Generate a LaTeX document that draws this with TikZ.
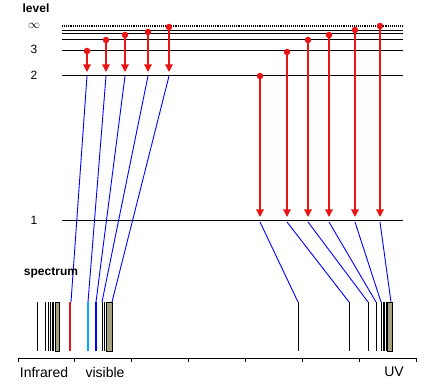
\documentclass[tikz,border=0pt]{standalone}
\usepackage{fontspec}
\setmainfont{Liberation Sans}
\usetikzlibrary{arrows.meta}
\definecolor{seriesgray}{RGB}{165,160,125}
\definecolor{halpha}{RGB}{235,20,20}

\tikzset{
  energy/.style={black, line width=0.9pt},
  trans/.style={halpha, line width=1.2pt, -{Triangle[width=7.5pt,length=7.5pt]}},
  dot/.style={circle, fill=halpha, inner sep=0pt, minimum size=6.5pt},
  link/.style={blue, line width=0.9pt},
  specline/.style={black, line width=0.9pt},
  limit/.style={draw=black, line width=0.5pt, fill=seriesgray},
  lab/.style={font=\fontsize{12}{14}\selectfont},
  head/.style={font=\fontsize{12}{14}\selectfont\bfseries},
  band/.style={font=\fontsize{14}{16}\selectfont}
}

\begin{document}
\begin{tikzpicture}[x=1pt,y=-1pt]
\useasboundingbox (0,0) rectangle (432,390);

% energy levels
\node[head] (lvl) at (36,8) {level};
\node[lab] (ninf) at (34,26) {$\infty$};
\node[lab] (n3) at (34,49) {3};
\node[lab] (n2) at (34,75) {2};
\node[lab] (n1) at (34,220) {1};
\draw[black, line width=1.1pt, densely dotted] (62,26) -- (403,26);
\draw[energy] (62,30) -- (403,30);
\draw[energy] (62,33) -- (403,33);
\draw[energy] (62,39) -- (403,39);
\draw[energy] (62,50) -- (403,50);
\draw[energy] (62,75) -- (403,75);
\draw[energy] (62,220) -- (403,220);

% Balmer series: down to level 2
\foreach \x/\y/\s [count=\i] in {87/51/71, 106/40/88, 125/35/96, 148/32/102, 169/27/112}{
  \node[dot] (b\i) at (\x,\y) {};
  \coordinate (b\i e) at (\x,72);
  \draw[trans] (b\i.center) -- (b\i e);
  \coordinate (b\i l) at (\x,76);
  \coordinate (b\i s) at (\s,302);
  \draw[link] (b\i l) -- (b\i s);
}

% Lyman series: down to level 1
\foreach \x/\y/\s [count=\i] in {260/76/298, 287/52/349, 308/40/368, 329/35/376, 355/30/381, 380/26/391}{
  \node[dot] (l\i) at (\x,\y) {};
  \coordinate (l\i e) at (\x,217);
  \draw[trans] (l\i.center) -- (l\i e);
  \coordinate (l\i l) at (\x,222);
  \coordinate (l\i s) at (\s,302);
  \draw[link] (l\i l) -- (l\i s);
}

% spectrum
\node[head] (spec) at (51,273) {spectrum};
\foreach \x in {37,45,48,50,52,53.5,102,104,298,349,368,376,381,383,384.5,386}
  \draw[specline] (\x,302) -- (\x,351);
\draw[halpha, line width=2pt] (70,302) -- (70,351);
\draw[cyan, line width=2pt] (88,302) -- (88,351);
\draw[blue, line width=2pt] (96,302) -- (96,351);
\draw[limit] (55,302) rectangle (59,351);
\draw[limit] (106,302) rectangle (112,351);
\draw[limit] (387,302) rectangle (392,351);

% wavelength axis
\draw[black, line width=0.8pt] (18,358) -- (416,358);
\foreach \k in {0,...,7}
  \draw[black, line width=0.8pt] (18+56.857*\k,358) -- (18+56.857*\k,362);
\node[band] (ir) at (44,372) {Infrared};
\node[band] (vis) at (105,372) {visible};
\node[band] (uv) at (394,372) {UV};
\end{tikzpicture}
\end{document}
